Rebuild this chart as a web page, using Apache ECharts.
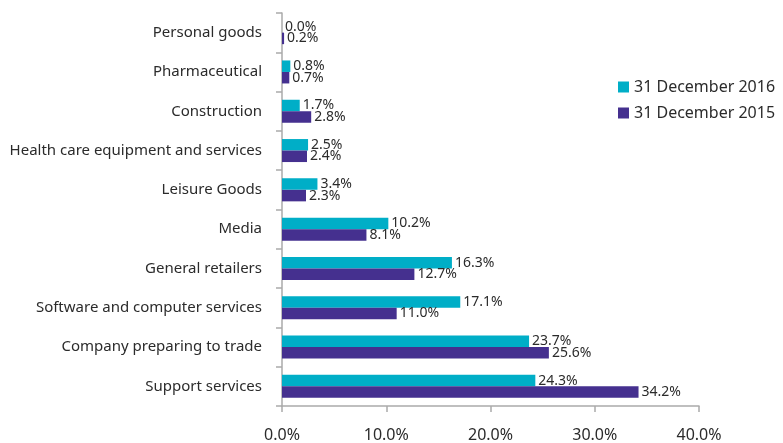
<!DOCTYPE html>
<html><head><meta charset="utf-8">
<script src="https://cdn.jsdelivr.net/npm/echarts@6/dist/echarts.min.js"></script>
<style>html,body{margin:0;padding:0;background:#fff}#c{width:783px;height:443px}</style>
</head><body><div id="c"></div>
<script>
const categories = ["Personal goods","Pharmaceutical","Construction","Health care equipment and services","Leisure Goods","Media","General retailers","Software and computer services","Company preparing to trade","Support services"];
const values2016 = [0.0,0.8,1.7,2.5,3.4,10.2,16.3,17.1,23.7,24.3];
const values2015 = [0.2,0.7,2.8,2.4,2.3,8.1,12.7,11.0,25.6,34.2];
const xTicks = [0,10,20,30,40];
const seriesNames = ["31 December 2016","31 December 2015"];

const font = "'Noto Sans', sans-serif";
const chart = echarts.init(document.getElementById('c'), null, {renderer:'canvas'});
const lbl = {show:true, position:'right', distance:3, fontFamily:font, fontSize:14, color:'#2b2b2b', formatter: p => p.value.toFixed(1)+'%'};
chart.setOption({
  animation:false,
  grid:{left:282, right:84, top:13, bottom:37, containLabel:false},
  legend:{orient:'vertical', left:613, top:74, itemWidth:11, itemHeight:11, itemGap:10, icon:'rect',
    textStyle:{fontFamily:font, fontSize:16, color:'#2b2b2b'}, data:seriesNames},
  xAxis:{type:'value', min:xTicks[0], max:xTicks[xTicks.length-1], interval:10,
    axisLine:{show:true, lineStyle:{color:'#aaa', width:1.5}},
    axisTick:{show:true, length:6, lineStyle:{color:'#aaa', width:1.5}},
    splitLine:{show:false},
    axisLabel:{margin:21, fontFamily:font, fontSize:16, color:'#2b2b2b', formatter: v => v.toFixed(1)+'%'}},
  yAxis:{type:'category', inverse:true, data:categories,
    axisLine:{show:true, lineStyle:{color:'#aaa', width:1.5}},
    axisTick:{show:true, length:6, lineStyle:{color:'#aaa', width:1.5}},
    axisLabel:{margin:20, fontFamily:font, fontSize:15, color:'#2b2b2b'}},
  series:[
    {name:seriesNames[0], type:'bar', data:values2016, barWidth:11.5, barGap:'0%', itemStyle:{color:'#00AEC7'}, label:lbl},
    {name:seriesNames[1], type:'bar', data:values2015, barWidth:11.5, barGap:'0%', itemStyle:{color:'#45308F'}, label:lbl}
  ]
});
</script></body></html>
